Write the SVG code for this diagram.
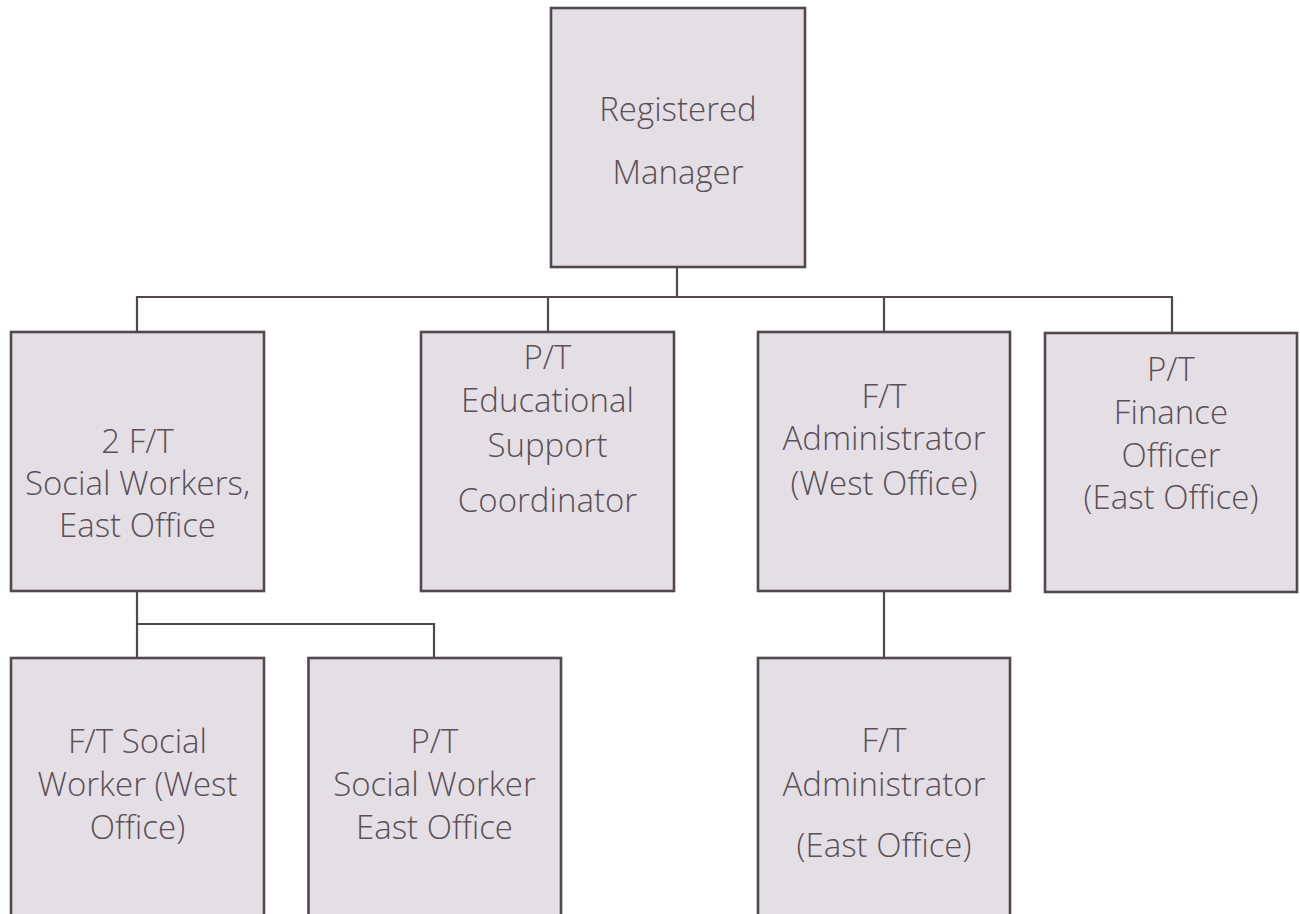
<svg xmlns="http://www.w3.org/2000/svg" width="1300" height="914" viewBox="0 0 1300 914">
<style>
.box{fill:#e4dfe5;stroke:#52484e;stroke-width:2.6}
.ln{fill:none;stroke:#52484e;stroke-width:2.2}
text{font-family:"Open Sans","Noto Sans","Liberation Sans",sans-serif;font-weight:300;font-size:33px;fill:#5a5055;text-anchor:middle}
</style>
<rect width="1300" height="914" fill="#ffffff"/>
<g id="connectors">
<path class="ln" d="M677,267 V297 M137,332 V297 H1172 V333 M548,297 V332 M884,297 V332"/>
<path class="ln" d="M137,591 V658 M137,624 H434 V658"/>
<path class="ln" d="M884,591 V658"/>
</g>
<g id="registered-manager">
<rect class="box" x="551" y="8" width="254" height="259"/>
<text x="678" y="121">Registered</text>
<text x="678" y="184">Manager</text>
</g>
<g id="social-workers-east">
<rect class="box" x="11" y="332" width="253" height="259"/>
<text x="137.5" y="453">2 F/T</text>
<text x="137.5" y="495">Social Workers,</text>
<text x="137.5" y="537">East Office</text>
</g>
<g id="educational-support">
<rect class="box" x="421" y="332" width="253" height="259"/>
<text x="547.5" y="369">P/T</text>
<text x="547.5" y="412">Educational</text>
<text x="547.5" y="457">Support</text>
<text x="547.5" y="512">Coordinator</text>
</g>
<g id="administrator-west">
<rect class="box" x="758" y="332" width="252" height="259"/>
<text x="884" y="408">F/T</text>
<text x="884" y="450">Administrator</text>
<text x="884" y="495">(West Office)</text>
</g>
<g id="finance-officer">
<rect class="box" x="1045" y="333" width="252" height="259"/>
<text x="1171" y="381">P/T</text>
<text x="1171" y="424">Finance</text>
<text x="1171" y="467">Officer</text>
<text x="1171" y="509">(East Office)</text>
</g>
<g id="social-worker-west">
<rect class="box" x="11" y="658" width="253" height="270"/>
<text x="137.5" y="753">F/T Social</text>
<text x="137.5" y="796">Worker (West</text>
<text x="137.5" y="839">Office)</text>
</g>
<g id="social-worker-east">
<rect class="box" x="308.5" y="658" width="252.5" height="270"/>
<text x="434.5" y="753">P/T</text>
<text x="434.5" y="796">Social Worker</text>
<text x="434.5" y="839">East Office</text>
</g>
<g id="administrator-east">
<rect class="box" x="758" y="658" width="252" height="270"/>
<text x="884" y="752">F/T</text>
<text x="884" y="796">Administrator</text>
<text x="884" y="857">(East Office)</text>
</g>
</svg>
